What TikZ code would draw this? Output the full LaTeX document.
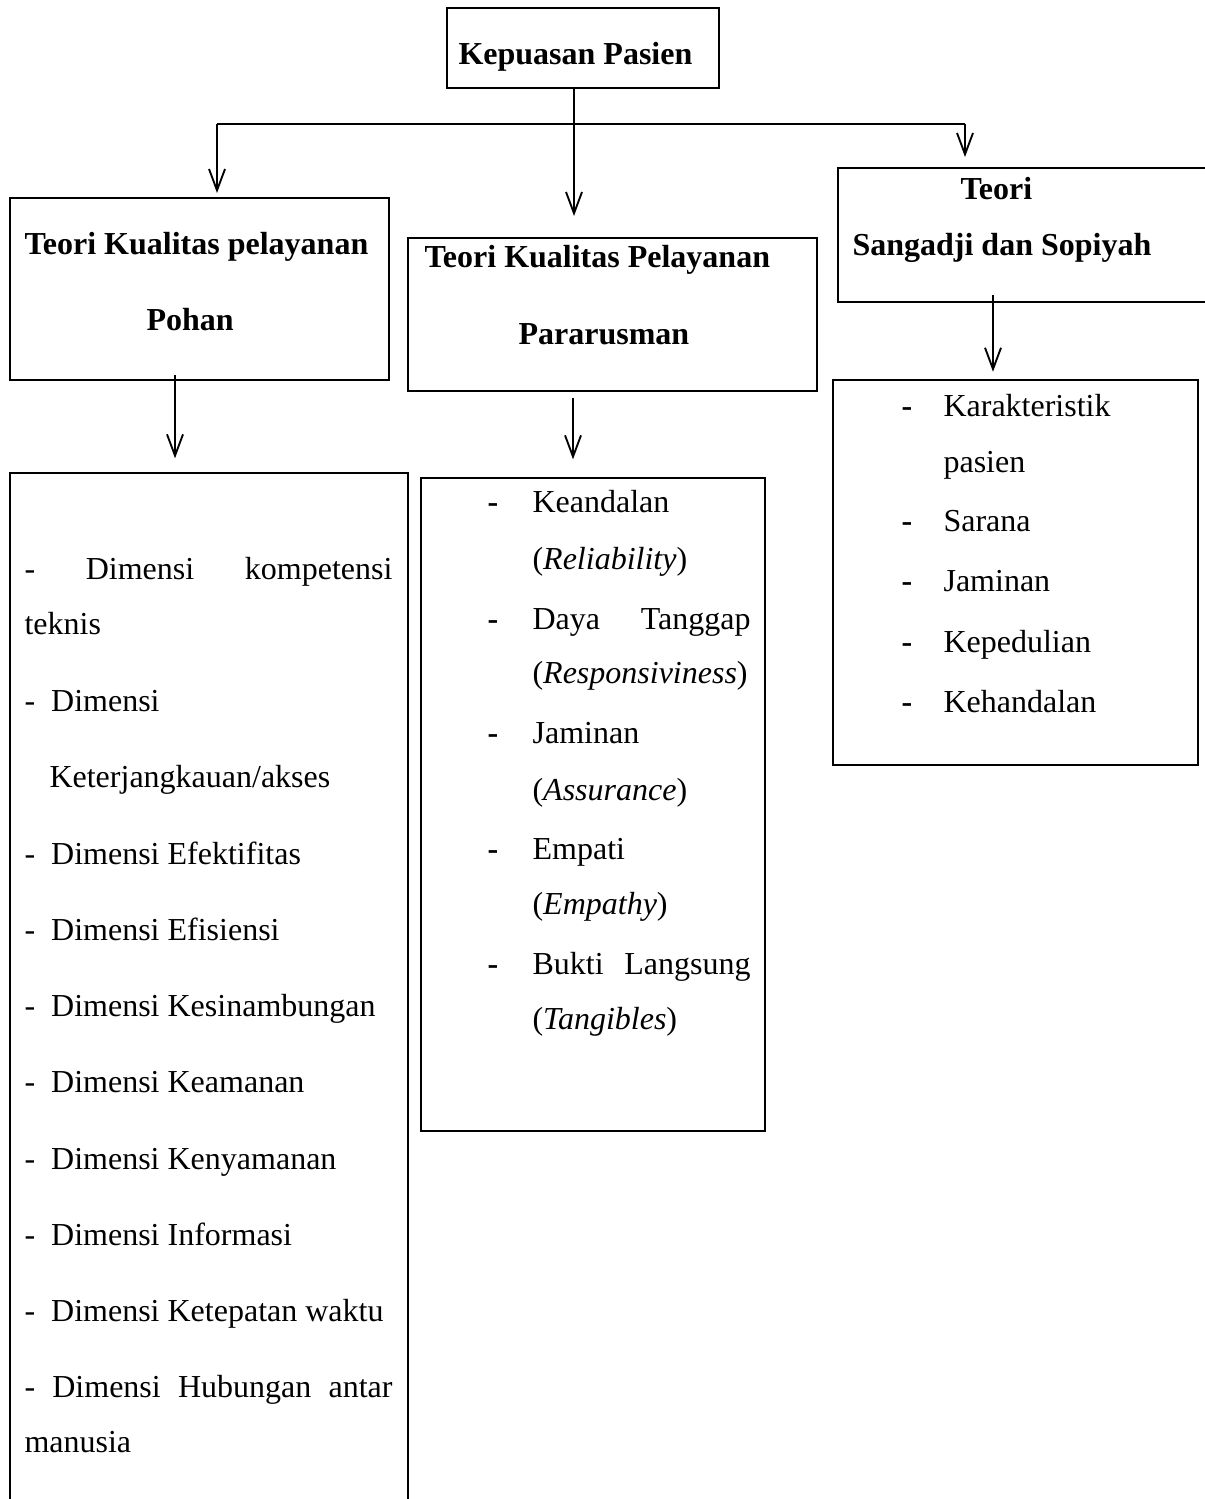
\documentclass[tikz,border=0pt]{standalone}
\usepackage{fontspec}
\setmainfont{Liberation Serif}
\usetikzlibrary{arrows.meta,fit,positioning}
\newcommand{\spread}[2]% width, words
{\makebox[#1][s]{#2}}
\newcommand{\dashline}[2]% gap, words
{\makebox[#1][l]{\textbf{-}}#2}

\begin{document}
\begin{tikzpicture}[x=0.375pt,y=-0.375pt,
	box/.style={draw,line width=1pt,inner sep=0pt},
	txt/.style={anchor=base west,inner sep=0pt,font=\fontsize{12}{14}\selectfont},
	head/.style={txt,font=\fontsize{12}{14}\selectfont\bfseries},
	link/.style={line width=0.7pt},
	arr/.style={line width=0.7pt,-{Straight Barb[length=8pt,width=6pt]}}]
	\useasboundingbox (0,0) rectangle (1204,1499);
	% boxes
	\node[box,fit={(447,8) (719,88)}] (kepuasan) {};
	\node[box,fit={(10,198) (389,380)}] (pohan) {};
	\node[box,fit={(408,238) (817,391)}] (pararusman) {};
	\node[box,fit={(838,168) (1210,302)}] (sangadji) {};
	\node[box,fit={(10,473) (408,1540)}] (pohanlist) {};
	\node[box,fit={(421,478) (765,1131)}] (pararusmanlist) {};
	\node[box,fit={(833,380) (1198,765)}] (sangadjilist) {};
	% connectors
	\coordinate (split) at (574,124);
	\coordinate (leftturn) at (217,124);
	\coordinate (rightturn) at (965,124);
	\coordinate (pohantip) at (217,193);
	\coordinate (pararusmantip) at (574,216);
	\coordinate (sangadjitip) at (965,157);
	\draw[link] (kepuasan.south -| split) -- (split);
	\draw[link] (leftturn) -- (rightturn);
	\draw[arr] (leftturn) -- (pohantip);
	\draw[arr] (split) -- (pararusmantip);
	\draw[arr] (rightturn) -- (sangadjitip);
	\coordinate (pohanout) at (175,375);
	\coordinate (pararusmanout) at (573,398);
	\coordinate (sangadjiout) at (993,295);
	\draw[arr] (pohanout) -- ([yshift=5pt]pohanout |- pohanlist.north);
	\draw[arr] (pararusmanout) -- ([yshift=6.5pt]pararusmanout |- pararusmanlist.north);
	\draw[arr] (sangadjiout) -- ([yshift=2.6pt]sangadjiout |- sangadjilist.north);
	% headings
	\node[head] (t0) at (458,65) {Kepuasan Pasien};
	\node[head] (t1) at (24,255) {Teori Kualitas pelayanan};
	\node[head] (t2) at (146,331) {Pohan};
	\node[head] (t3) at (424,268) {Teori Kualitas Pelayanan};
	\node[head] (t4) at (518,345) {Pararusman};
	\node[head] (t5) at (960,200) {Teori};
	\node[head] (t6) at (852,256) {Sangadji dan Sopiyah};
	% Pohan
	\node[txt] (p1) at (24,580) {\spread{138pt}{- Dimensi kompetensi}};
	\node[txt] (p2) at (24,635) {teknis};
	\node[txt] (p3) at (24,711) {-\ \ Dimensi};
	\node[txt] (p4) at (49,787) {Keterjangkauan/akses};
	\node[txt] (p5) at (24,864) {-\ \ Dimensi Efektifitas};
	\node[txt] (p6) at (24,940) {-\ \ Dimensi Efisiensi};
	\node[txt] (p7) at (24,1016) {-\ \ Dimensi Kesinambungan};
	\node[txt] (p8) at (24,1092) {-\ \ Dimensi Keamanan};
	\node[txt] (p9) at (24,1169) {-\ \ Dimensi Kenyamanan};
	\node[txt] (p10) at (24,1245) {-\ \ Dimensi Informasi};
	\node[txt] (p11) at (24,1321) {-\ \ Dimensi Ketepatan waktu};
	\node[txt] (p12) at (24,1397) {\spread{138pt}{- Dimensi Hubungan antar}};
	\node[txt] (p13) at (24,1452) {manusia};
	% Pararusman
	\node[txt] (r1) at (487,513) {\dashline{16.9pt}{Keandalan}};
	\node[txt] (r2) at (532,569) {(\textit{Reliability})};
	\node[txt] (r3) at (487,629) {\dashline{16.9pt}{\spread{81.75pt}{Daya Tanggap}}};
	\node[txt] (r4) at (532,683) {(\textit{Responsiviness})};
	\node[txt] (r5) at (487,743) {\dashline{16.9pt}{Jaminan}};
	\node[txt] (r6) at (532,800) {(\textit{Assurance})};
	\node[txt] (r7) at (487,859) {\dashline{16.9pt}{Empati}};
	\node[txt] (r8) at (532,914) {(\textit{Empathy})};
	\node[txt] (r9) at (487,974) {\dashline{16.9pt}{\spread{81.75pt}{Bukti Langsung}}};
	\node[txt] (r10) at (532,1029) {(\textit{Tangibles})};
	% Sangadji
	\node[txt] (s1) at (901,417) {\dashline{15.75pt}{Karakteristik}};
	\node[txt] (s2) at (943,473) {pasien};
	\node[txt] (s3) at (901,532) {\dashline{15.75pt}{Sarana}};
	\node[txt] (s4) at (901,592) {\dashline{15.75pt}{Jaminan}};
	\node[txt] (s5) at (901,652) {\dashline{15.75pt}{Kepedulian}};
	\node[txt] (s6) at (901,712) {\dashline{15.75pt}{Kehandalan}};
\end{tikzpicture}
\end{document}
